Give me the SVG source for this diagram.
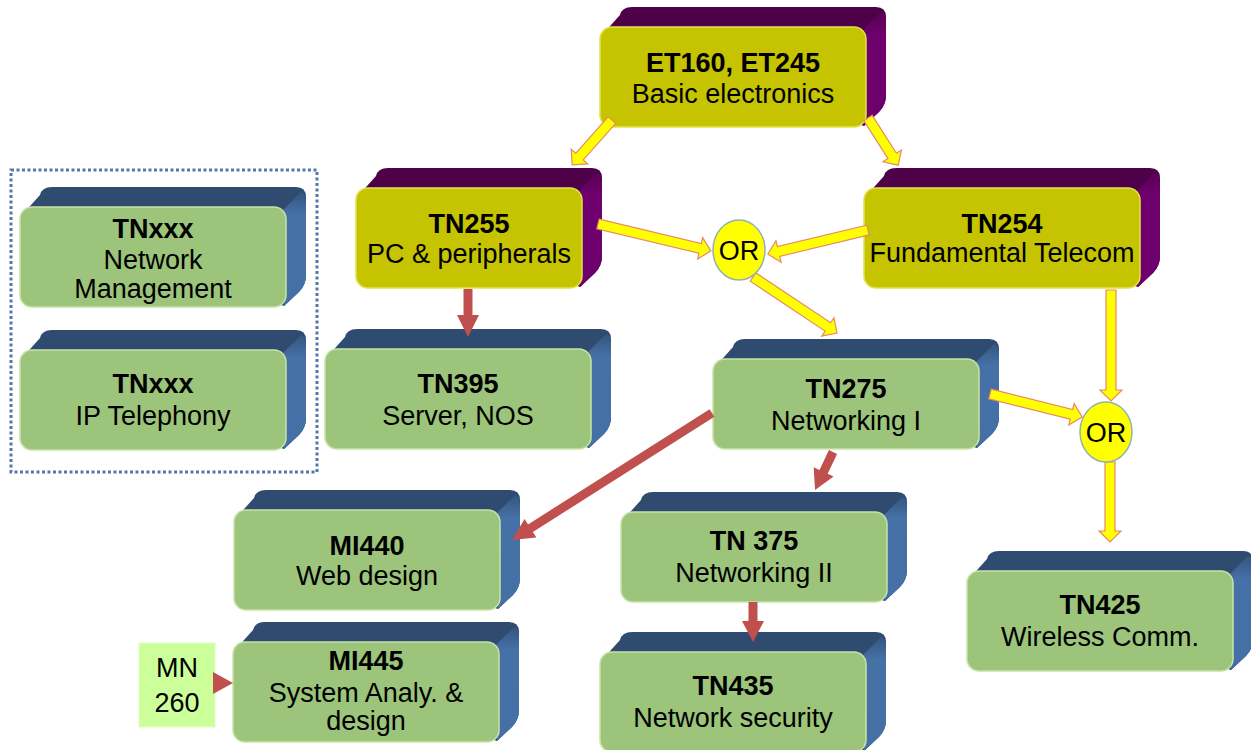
<svg xmlns="http://www.w3.org/2000/svg" xmlns:xlink="http://www.w3.org/1999/xlink" width="1251" height="750" viewBox="0 0 1251 750">
<style>
text{font-family:"Liberation Sans",Arial,sans-serif;font-size:27px;fill:#000;text-anchor:middle}
.t{font-weight:bold}
.btop{fill:#2f4b6f}
.ptop{fill:#4e0049}
.bside{fill:url(#gb)}
.pside{fill:url(#gp)}
.gface{fill:#9cc47a;stroke:#c8e3a6;stroke-width:1.5}
.yface{fill:#c6c400;stroke:#e2e24c;stroke-width:1.5}
.ya{fill:#ffff00;stroke:#e58a66;stroke-width:1.2}
.ra{fill:#c0504d}
.orc{fill:#ffff00;stroke:#8fb3b3;stroke-width:1.5}
</style>
<defs>
<linearGradient id="gb" x1="0" y1="0" x2="0" y2="1"><stop offset="0" stop-color="#34557f"/><stop offset="0.2" stop-color="#4671a6"/><stop offset="1" stop-color="#4470a5"/></linearGradient>
<linearGradient id="gp" x1="0" y1="0" x2="0" y2="1"><stop offset="0" stop-color="#5a0056"/><stop offset="0.2" stop-color="#6e006e"/><stop offset="1" stop-color="#6d006d"/></linearGradient>
<g id="b266">
<path class="btop" d="M2,8 L20,-12 Q22,-20 32,-20 L276,-20 Q286,-20 286,-10 L286,68 Q286,78 279,85 L264,99 Z"/>
<path class="bside" d="M261,5 L281,-15 Q286,-14 286,-6 L286,68 Q286,78 279,85 L264,99 Z"/>
<rect class="gface" x="0" y="0" width="266" height="100" rx="12"/>
</g>
<g id="b90">
<path class="btop" d="M2,8 L20,-12 Q22,-20 32,-20 L276,-20 Q286,-20 286,-10 L286,58 Q286,68 279,75 L264,89 Z"/>
<path class="bside" d="M261,5 L281,-15 Q286,-14 286,-6 L286,58 Q286,68 279,75 L264,89 Z"/>
<rect class="gface" x="0" y="0" width="266" height="90" rx="12"/>
</g>
<g id="p266">
<path class="ptop" d="M2,8 L20,-12 Q22,-20 32,-20 L276,-20 Q286,-20 286,-10 L286,68 Q286,78 279,85 L264,99 Z"/>
<path class="pside" d="M261,5 L281,-15 Q286,-14 286,-6 L286,68 Q286,78 279,85 L264,99 Z"/>
<rect class="yface" x="0" y="0" width="266" height="100" rx="12"/>
</g>
<g id="p226">
<path class="ptop" d="M2,8 L20,-12 Q22,-20 32,-20 L236,-20 Q246,-20 246,-10 L246,68 Q246,78 239,85 L224,99 Z"/>
<path class="pside" d="M221,5 L241,-15 Q246,-14 246,-6 L246,68 Q246,78 239,85 L224,99 Z"/>
<rect class="yface" x="0" y="0" width="226" height="100" rx="12"/>
</g>
<g id="p276">
<path class="ptop" d="M2,8 L20,-12 Q22,-20 32,-20 L286,-20 Q296,-20 296,-10 L296,68 Q296,78 289,85 L274,99 Z"/>
<path class="pside" d="M271,5 L291,-15 Q296,-14 296,-6 L296,68 Q296,78 289,85 L274,99 Z"/>
<rect class="yface" x="0" y="0" width="276" height="100" rx="12"/>
</g>
</defs>

<rect id="group-frame" x="11" y="170" width="306" height="302" fill="none" stroke="#5577a8" stroke-width="3" stroke-dasharray="3 2.5"/>

<g id="et160"><use xlink:href="#p266" x="600" y="27"/><text class="t" x="733" y="72">ET160, ET245</text><text x="733" y="103">Basic electronics</text></g>
<g id="tn255"><use xlink:href="#p226" x="356" y="188"/><text class="t" x="469" y="233">TN255</text><text x="469" y="263">PC &amp; peripherals</text></g>
<g id="tn254"><use xlink:href="#p276" x="864" y="188"/><text class="t" x="1002" y="233">TN254</text><text x="1002" y="262">Fundamental Telecom</text></g>
<g id="tnxxx-nm"><use xlink:href="#b266" x="20" y="207"/><text class="t" x="153" y="238">TNxxx</text><text x="153" y="269">Network</text><text x="153" y="298">Management</text></g>
<g id="tnxxx-ip"><use xlink:href="#b266" x="20" y="350"/><text class="t" x="153" y="393">TNxxx</text><text x="153" y="425">IP Telephony</text></g>
<g id="tn395"><use xlink:href="#b266" x="325" y="349"/><text class="t" x="458" y="393">TN395</text><text x="458" y="425">Server, NOS</text></g>
<g id="tn275"><use xlink:href="#b90" x="713" y="359"/><text class="t" x="846" y="398">TN275</text><text x="846" y="430">Networking I</text></g>
<g id="mi440"><use xlink:href="#b266" x="234" y="510"/><text class="t" x="367" y="555">MI440</text><text x="367" y="585">Web design</text></g>
<g id="tn375"><use xlink:href="#b90" x="621" y="512"/><text class="t" x="754" y="550">TN 375</text><text x="754" y="582">Networking II</text></g>
<g id="mi445"><use xlink:href="#b266" x="233" y="642"/><text class="t" x="366" y="670">MI445</text><text x="366" y="702">System Analy. &amp;</text><text x="366" y="730">design</text></g>
<g id="tn435"><use xlink:href="#b266" x="600" y="652"/><text class="t" x="733" y="695">TN435</text><text x="733" y="727">Network security</text></g>
<g id="tn425"><use xlink:href="#b266" x="967" y="571"/><text class="t" x="1100" y="614">TN425</text><text x="1100" y="646">Wireless Comm.</text></g>
<g id="mn260"><rect x="139" y="643" width="76" height="84" fill="#ccff99" stroke="#e0ffc0" stroke-width="1"/><text x="177" y="677" font-size="28">MN</text><text x="177" y="712" font-size="28">260</text></g>

<g id="connectors">
<path class="ya" transform="translate(612,120) rotate(131.6)" d="M0,-5 H49 V-11 L60,0 L49,11 V5 H0 Z"/>
<path class="ya" transform="translate(868,118) rotate(57.45)" d="M0,-5 H45 V-11 L56,0 L45,11 V5 H0 Z"/>
<path class="ya" transform="translate(598,224) rotate(13.4)" d="M0,-5 H105 V-11 L116,0 L105,11 V5 H0 Z"/>
<path class="ya" transform="translate(868,230) rotate(166.5)" d="M0,-5 H92 V-11 L103,0 L92,11 V5 H0 Z"/>
<path class="ya" transform="translate(753,277) rotate(33.7)" d="M0,-5 H90 V-11 L101,0 L90,11 V5 H0 Z"/>
<path class="ya" transform="translate(1111,290) rotate(90)" d="M0,-5 H100 V-11 L111,0 L100,11 V5 H0 Z"/>
<path class="ya" transform="translate(990,394) rotate(14)" d="M0,-5 H84 V-11 L95,0 L84,11 V5 H0 Z"/>
<path class="ya" transform="translate(1110,462) rotate(90)" d="M0,-5 H69 V-11 L80,0 L69,11 V5 H0 Z"/>
<path class="ra" transform="translate(468,289) rotate(90)" d="M0,-4.5 H26 V-11 L48,0 L26,11 V4.5 H0 Z"/>
<path class="ra" transform="translate(712,413) rotate(147.6)" d="M0,-4.5 H215 V-11 L237,0 L215,11 V4.5 H0 Z"/>
<path class="ra" transform="translate(833,452) rotate(115.3)" d="M0,-4.5 H22 V-11 L42,0 L22,11 V4.5 H0 Z"/>
<path class="ra" transform="translate(753,602) rotate(90)" d="M0,-4.5 H19 V-11 L40,0 L19,11 V4.5 H0 Z"/>
<path class="ra" d="M213,672 L233,683 L213,694 Z"/>
</g>

<g id="or1"><ellipse class="orc" cx="739" cy="250" rx="26" ry="30"/><text x="739" y="260">OR</text></g>
<g id="or2"><ellipse class="orc" cx="1106" cy="432" rx="26" ry="30"/><text x="1106" y="442">OR</text></g>
</svg>
